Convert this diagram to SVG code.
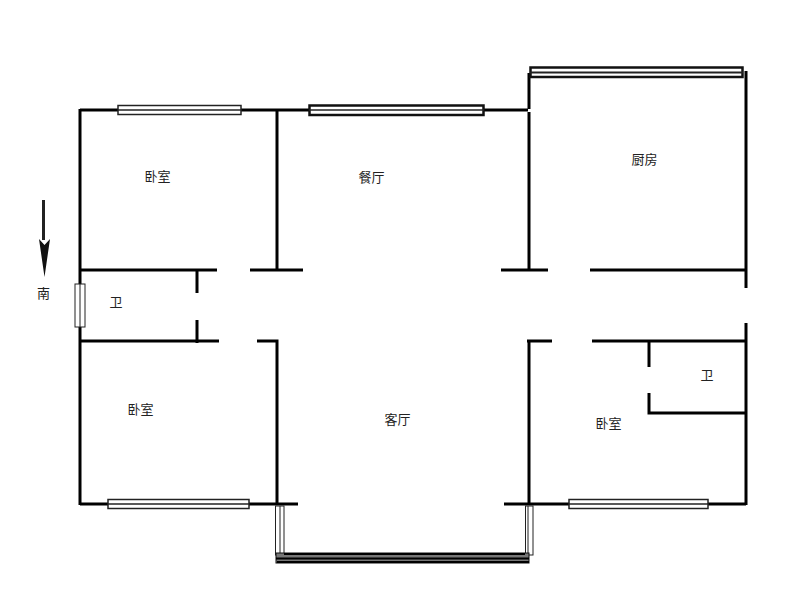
<svg xmlns="http://www.w3.org/2000/svg" width="800" height="600" viewBox="0 0 800 600">
<style>
.w{stroke:#000;stroke-width:3;fill:none}
.f{fill:#fff;stroke:#222;stroke-width:1.5}
.h{fill:#fff;stroke:#111;stroke-width:2.5}
.m{stroke:#222;stroke-width:1.5;fill:none}
.n{stroke-width:1}
.t{font-family:"Noto Sans CJK SC","Liberation Sans",sans-serif;font-size:13px;fill:#222;text-anchor:middle}
</style>
<rect width="800" height="600" fill="#fff"/>
<g id="walls">
<path class="w" d="M80 505V109M80 110H528M277 110V270M80 270H217M250 270H303M197 270V293M197 320V343M80 341H219M257 341H277V505M80 504H298M504 504H746"/>
<path class="w" d="M529 73V109M529 112V270M501 270H548M590 270H747M746 71V288M746 323V505M527 341H552M592 341H747M529 341V505M649 341V367M649 393V413H746"/>
</g>
<g id="windows">
<g id="window-bedroom-nw"><rect class="f" x="118" y="105.500" width="123" height="9"/><path class="m" d="M118 110H241"/></g>
<g id="window-dining"><rect class="h" x="309.500" y="105.500" width="174" height="9.500"/><path class="m" d="M309 110H484"/></g>
<g id="window-kitchen"><rect class="h" x="530.500" y="67.500" width="212" height="9.500"/><path class="m" d="M530 72.500H743" style="stroke-width:2"/></g>
<g id="window-bath"><rect class="f n" x="75" y="284" width="10" height="43"/><path class="m n" d="M80 284V327"/></g>
<g id="window-bedroom-sw"><rect class="f" x="108" y="499.500" width="141" height="9"/><path class="m" d="M108 504H249"/></g>
<g id="window-bedroom-se"><rect class="f" x="569" y="499.500" width="139" height="9"/><path class="m" d="M569 504H708"/></g>
<g id="window-balcony-left"><rect class="f n" x="275.500" y="506" width="8.500" height="49"/><path class="m n" d="M280 506V555"/></g>
<g id="window-balcony-right"><rect class="f n" x="525.500" y="506" width="7.500" height="49"/><path class="m n" d="M528 506V555"/></g>
<g id="window-balcony-bottom"><rect x="276" y="553" width="253" height="10" fill="#777" stroke="#111" stroke-width="1"/><path d="M284 554H525M276 558.500H529M277 562H529" stroke="#000" stroke-width="2" fill="none"/></g>
</g>
<g id="labels">
<text class="t" x="157.500" y="181">卧室</text>
<text class="t" x="371.500" y="182">餐厅</text>
<text class="t" x="644.500" y="164">厨房</text>
<text class="t" x="116" y="307">卫</text>
<text class="t" x="140.500" y="414">卧室</text>
<text class="t" x="397.500" y="424">客厅</text>
<text class="t" x="608.500" y="428">卧室</text>
<text class="t" x="707" y="380">卫</text>
<text class="t" x="43.500" y="298">南</text>
</g>
<g id="north-arrow">
<path d="M43.500 200V240" stroke="#222" stroke-width="3" fill="none"/>
<path d="M39 239L44.500 277L50 239L44.500 245Z" fill="#111"/>
</g>
</svg>
